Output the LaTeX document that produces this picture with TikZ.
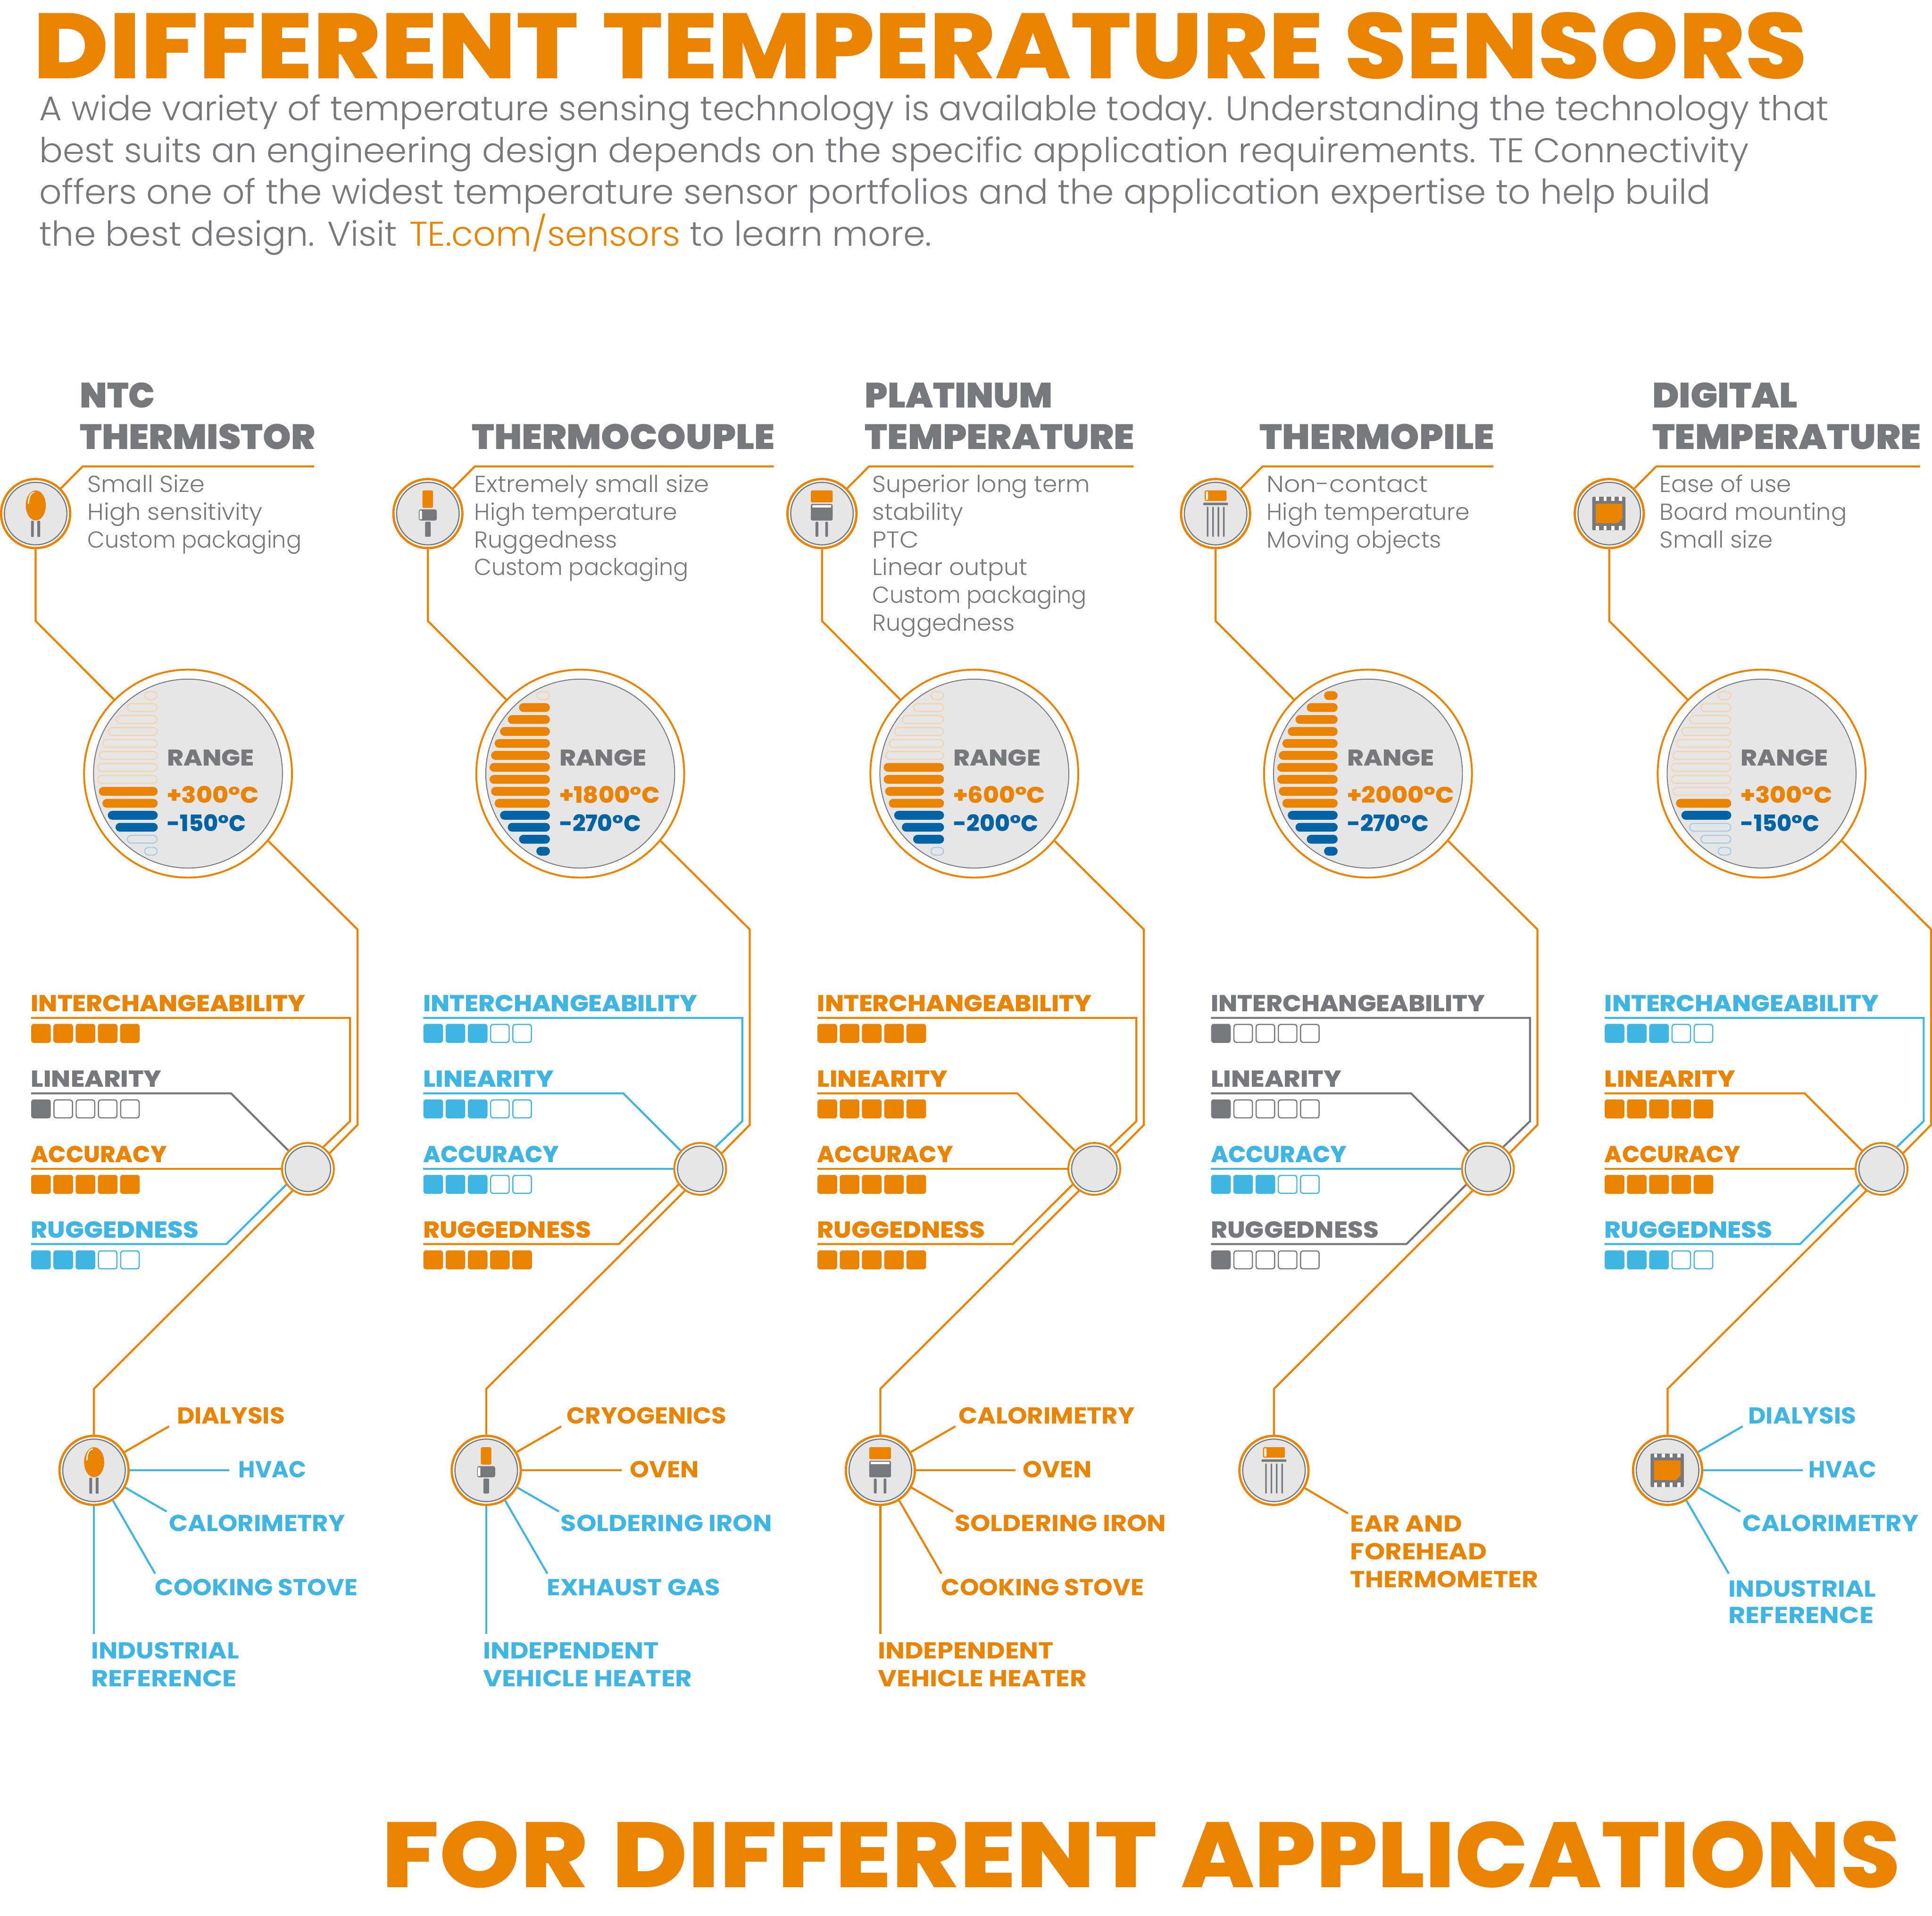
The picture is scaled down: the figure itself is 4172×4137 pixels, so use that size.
\documentclass[tikz,border=0pt]{standalone}
\usepackage{fontspec}
\usepackage{graphicx}
\newfontfamily\fblack{Poppins Black}
\newfontfamily\ftt{Poppins ExtraBold}
\newfontfamily\fxb{Poppins ExtraBold}
\newfontfamily\fbd{Poppins}[UprightFont=* Bold]
\newfontfamily\flight{Poppins Light}
\definecolor{teo}{HTML}{E98300}
\definecolor{teg}{HTML}{77787B}
\definecolor{tel}{HTML}{3FB5E3}
\definecolor{ted}{HTML}{0064A4}
\definecolor{tef}{HTML}{E6E6E7}
\definecolor{teeo}{HTML}{F6D3A8}
\definecolor{teeb}{HTML}{A5CCE2}
\newcommand\ftitle{\ftt\fontsize{200}{200}\selectfont}
\newcommand\fintro{\flight\fontsize{74}{74}\selectfont}
\newcommand\fhead{\fblack\fontsize{76}{76}\selectfont}
\newcommand\fdesc{\flight\fontsize{50}{50}\selectfont}
\newcommand\fmetric{\fxb\fontsize{50}{50}\selectfont}
\newcommand\frange{\fxb\fontsize{49}{49}\selectfont}
\newcommand\fapp{\fbd\fontsize{50}{50}\selectfont}
\newcommand\fitw[2]{\resizebox{#1pt}{\height}{#2}}
\tikzset{
 txt/.style={anchor=base west,inner sep=0pt,outer sep=0pt},
 conn/.style={line width=4.3pt},
 ringS/.style={circle,draw=teo,line width=5pt,fill=white,minimum size=149pt,inner sep=0pt},
 coreS/.style={circle,draw=teg,line width=2.5pt,fill=tef,minimum size=135pt,inner sep=0pt},
 ringR/.style={circle,draw=teo,line width=4pt,fill=white,minimum size=449pt,inner sep=0pt},
 coreR/.style={circle,draw=teg,line width=2pt,fill=tef,minimum size=408pt,inner sep=0pt},
 ringM/.style={circle,draw=teo,line width=4pt,fill=white,minimum size=112pt,inner sep=0pt},
 coreM/.style={circle,draw=teg,line width=2.5pt,fill=tef,minimum size=98pt,inner sep=0pt},
 barE/.style={draw=teeo,line width=2.4pt,rounded corners=8.2pt},
 barO/.style={fill=teo,rounded corners=9.5pt},
 barB/.style={fill=ted,rounded corners=9.5pt},
 barL/.style={draw=teeb,line width=2.4pt,rounded corners=8.2pt},
 icg/.style={fill=teg,rounded corners=2.5pt},
 ico/.style={fill=teo,rounded corners=3pt},
 icw/.style={fill=white,rounded corners=1pt},
}
% ---------- icons, drawn round the origin
\newcommand\iconA{%
 \fill[teo] (0.3,-17.6) ellipse [x radius=21.7,y radius=32.4];
 \draw[white,line width=2.6pt,line cap=round] (-3,-46) .. controls (-11,-45) and (-15,-36) .. (-15.5,-22);
 \fill[icg,rounded corners=1pt] (-10,15.6) rectangle (-4,50.4);
 \fill[icg,rounded corners=1pt] (3.6,15.6) rectangle (9.8,50.4);}
\newcommand\iconB{%
 \fill[ico] (-11.7,-50) rectangle (11,-12.3);
 \fill[icg,rounded corners=4pt] (-19.7,-9) rectangle (19.3,15);
 \fill[icw] (-18,-6.3) rectangle (-12.7,12.3);
 \fill[icg,rounded corners=1.5pt] (-6,17.7) rectangle (6,50);}
\newcommand\iconC{%
 \fill[ico] (-24,-50) rectangle (23,-24);
 \fill[icg,rounded corners=3pt] (-24,-20.7) rectangle (23,15);
 \fill[icw] (-21,-18.3) rectangle (20,-13.3);
 \fill[icg,rounded corners=1.5pt] (-14,17.7) rectangle (-8,50);
 \fill[icg,rounded corners=1.5pt] (7,17.7) rectangle (13,50);}
\newcommand\iconD{%
 \fill[ico] (-23.7,-50) rectangle (23.7,-27.3);
 \fill[icw] (-21,-47.7) rectangle (-16.3,-29.7);
 \fill[icg,rounded corners=1pt] (-26.7,-23.7) rectangle (26.7,-18.3);
 \foreach \q in {-19,-7.3,4.3,16}{\fill[icg,rounded corners=1pt] (\q,-14.7) rectangle (\q+3.4,50);}}
\newcommand\iconE{%
 \fill[icg] (-36.7,-36.3) rectangle (35,36);
 \foreach \q in {-29.3,-12.3,4.3,21}{
  \fill[white] (\q,-36.3) rectangle (\q+6.8,-27.3);
  \fill[white] (\q,26.7) rectangle (\q+6.8,36);}
 \fill[teo] (-29.3,-21.3) -- (28.3,-21.3) -- (28.3,11) -- (18.3,21) -- (-29.3,21) -- cycle;}
% ---------- column state
\newcommand\setcol[2]{\def\cid{#1}\def\dx{#2}}
\newcommand\headA[3]{\node[txt,text=teg] (hA\cid) at (#1,881) {\fitw{#2}{\fhead #3}};}
\newcommand\headB[3]{\node[txt,text=teg] (hB\cid) at (#1,970) {\fitw{#2}{\fhead #3}};}
\newcommand\desclines[2]{%
 \foreach \w/\t [count=\i from 0] in {#2}{
  \node[txt,text=teg] (d\cid-\i) at (#1,1062.6+60*\i) {\fitw{\w}{\fdesc \t}};}}
\newcommand\topconn[1]{% right end of the heading rule
 \node[ringS] (t\cid) at (\dx+77,1109) {};
 \node[coreS] (tc\cid) at (\dx+77,1109) {};
 \coordinate (ta\cid) at (\dx+178.6,1007);
 \coordinate (tb\cid) at (#1,1007);
 \coordinate (tc\cid x) at (\dx+77,1341);
 \node[ringR] (r\cid) at (\dx+406,1670.5) {};
 \node[coreR] (rc\cid) at (\dx+406,1670.5) {};
 \coordinate (ra\cid) at (\dx+772,2007);
 \coordinate (rb\cid) at (\dx+772,2429);
 \node[ringM] (m\cid) at (\dx+665,2524) {};
 \node[coreM] (mc\cid) at (\dx+665,2524) {};
 \coordinate (ma\cid) at (\dx+203,2999);
 \node[ringS] (b\cid) at (\dx+203,3175) {};
 \node[coreS] (bc\cid) at (\dx+203,3175) {};
 \draw[conn,teo] (t\cid.45) -- (ta\cid) -- (tb\cid);
 \draw[conn,teo] (t\cid.south) -- (tc\cid x) -- (r\cid.135);
 \draw[conn,teo] (r\cid.320) -- (ra\cid) -- (rb\cid) -- (m\cid.36);
 \draw[conn,teo] (m\cid.235) -- (ma\cid) -- (b\cid.north);}
\newcommand\placeicon[1]{%
 \begin{scope}[shift={(\dx+77,1109)}]#1\end{scope}
 \begin{scope}[shift={(\dx+203,3175)}]#1\end{scope}}
\newcommand\bars[3]{% last empty-orange row, last orange row, last blue row
 \foreach \w [count=\i] in {29.3,66.7,91,107.7,119.3,127,130.3,130.3,127,119.3,107.7,91,66.7,29.3}{
  \def\ins{0}
  \ifnum\i>#3 \def\s{barL}\def\ins{1.2}\else\ifnum\i>#2 \def\s{barB}\else\ifnum\i>#1 \def\s{barO}\else\def\s{barE}\def\ins{1.2}\fi\fi\fi
  \path[\s] (\dx+340.5-\w+\ins,1502+25.85*\i-25.85-9.5+\ins) rectangle (\dx+340.5-\ins,1502+25.85*\i-25.85+9.5-\ins);}}
\newcommand\rangetxt[4]{% hot, width, cold, width
 \node[txt,text=teg] (rt\cid) at (\dx+361,1654) {\fitw{188}{\frange RANGE}};
 \node[txt,text=teo] (rh\cid) at (\dx+361,1734) {\fitw{#2}{\frange #1}};
 \node[txt,text=ted] (rl\cid) at (\dx+361,1795) {\fitw{#4}{\frange #3}};}
\newcommand\squares[3]{% y top, colour, filled count
 \foreach \i in {0,...,4}{
  \ifnum\i<#3
   \fill[#2,rounded corners=6pt] (\dx+67.3+48*\i,#1) rectangle (\dx+109.7+48*\i,#1+41);
  \else
   \draw[#2,line width=2.5pt,rounded corners=5pt] (\dx+68.5+48*\i,#1+1.2) rectangle (\dx+108.5+48*\i,#1+39.8);
  \fi}}
\newcommand\metricI[2]{%
 \node[txt,text=#1] (mI\cid) at (\dx+67,2184) {\fitw{592}{\fmetric INTERCHANGEABILITY}};
 \squares{2211}{#1}{#2}
 \coordinate (iA\cid) at (\dx+67,2198);\coordinate (iB\cid) at (\dx+756,2198);\coordinate (iC\cid) at (\dx+756,2421);
 \draw[conn,#1] (iA\cid) -- (iB\cid) -- (iC\cid) -- (m\cid.55);}
\newcommand\metricL[2]{%
 \node[txt,text=#1] (mL\cid) at (\dx+67,2347) {\fitw{282}{\fmetric LINEARITY}};
 \squares{2374}{#1}{#2}
 \coordinate (lA\cid) at (\dx+67,2361);\coordinate (lB\cid) at (\dx+499,2361);
 \draw[conn,#1] (lA\cid) -- (lB\cid) -- (m\cid.137);}
\newcommand\metricA[2]{%
 \node[txt,text=#1] (mA\cid) at (\dx+67,2510) {\fitw{293}{\fmetric ACCURACY}};
 \squares{2537}{#1}{#2}
 \coordinate (aA\cid) at (\dx+67,2524);
 \draw[conn,#1] (aA\cid) -- (m\cid.180);}
\newcommand\metricR[2]{%
 \node[txt,text=#1] (mR\cid) at (\dx+67,2673) {\fitw{362}{\fmetric RUGGEDNESS}};
 \squares{2700}{#1}{#2}
 \coordinate (uA\cid) at (\dx+67,2686.5);\coordinate (uB\cid) at (\dx+489,2686.5);
 \draw[conn,#1] (uA\cid) -- (uB\cid) -- (m\cid.216);}
\newcommand\applabel[5]{% colour, x, baseline, width, text
 \node[txt,text=#1] (L\cid-#3) at (#2,#3) {\fitw{#4}{\fapp #5}};}
\newcommand\appline[5]{% tag, colour, anchor, end x, end y
 \coordinate (e#1\cid) at (\dx+#4,#5);
 \draw[conn,#2] (b\cid.#3) -- (e#1\cid);}
\begin{document}
\begin{tikzpicture}[x=1pt,y=-1pt]
\useasboundingbox (0,0) rectangle (4172,4137);
% title and introduction
\node[txt,text=teo] (title) at (72,170) {\fitw{1177}{\ftitle DIFFERENT}\hspace{52pt}\fitw{1557}{\ftitle TEMPERATURE}\hspace{45pt}\fitw{999}{\ftitle SENSORS}};
\node[txt,text=teg] (intro1) at (85,260.7) {\fitw{3864}{\fintro A wide variety of temperature sensing technology is available today. Understanding the technology that}};
\node[txt,text=teg] (intro2) at (85,350.7) {\fitw{3691}{\fintro best suits an engineering design depends on the specific application requirements. TE Connectivity}};
\node[txt,text=teg] (intro3) at (85,441) {\fitw{3609}{\fintro offers one of the widest temperature sensor portfolios and the application expertise to help build}};
\node[txt,text=teg] (intro4) at (85,531) {\fitw{1927}{\fintro the best design. Visit \textcolor{teo}{\hspace{6pt}TE.com/sensors} to learn more.}};
\node[txt,text=teo] (bottom) at (825,4076) {\fitw{445}{\ftitle FOR}\hspace{52pt}\fitw{1177}{\ftitle DIFFERENT}\hspace{52pt}\fitw{1552}{\ftitle APPLICATIONS}};
% ---- column 1
\setcol{a}{0}
\headA{172.5}{162}{NTC}\headB{172.5}{508}{THERMISTOR}
\desclines{189}{253/Small Size,378/High sensitivity,462/Custom packaging}
\topconn{678.6}
\placeicon{\iconA}
\bars{8}{10}{12}
\rangetxt{+300°C}{198}{-150°C}{170}
\metricI{teo}{5}\metricL{teg}{1}\metricA{teo}{5}\metricR{tel}{3}
\appline{p}{teo}{31}{365}{3080}\appline{q}{tel}{0}{495}{3175}\appline{r}{tel}{-29}{360}{3264}\appline{s}{tel}{-58}{335}{3398}\appline{t}{tel}{south}{203}{3528}
\applabel{teo}{382}{3074}{233}{DIALYSIS}
\applabel{tel}{515}{3191}{146}{HVAC}
\applabel{tel}{365}{3307}{380}{CALORIMETRY}
\applabel{tel}{335}{3445}{437}{COOKING STOVE}
\applabel{tel}{197}{3582}{319}{INDUSTRIAL}
\applabel{tel}{197}{3641.5}{314}{REFERENCE}
% ---- column 2
\setcol{b}{847}
\headB{1019}{654}{THERMOCOUPLE}
\desclines{1024.5}{507/Extremely small size,438/High temperature,308/Ruggedness,462/Custom packaging}
\topconn{1671}
\placeicon{\iconB}
\bars{1}{10}{14}
\rangetxt{+1800°C}{217}{-270°C}{176}
\metricI{tel}{3}\metricL{tel}{3}\metricA{tel}{3}\metricR{teo}{5}
\appline{p}{teo}{31}{365}{3080}\appline{q}{teo}{0}{495}{3175}\appline{r}{tel}{-29}{360}{3264}\appline{s}{tel}{-58}{335}{3398}\appline{t}{tel}{south}{203}{3528}
\applabel{teo}{1224}{3074}{345}{CRYOGENICS}
\applabel{teo}{1360}{3191}{149}{OVEN}
\applabel{tel}{1211}{3307}{456}{SOLDERING IRON}
\applabel{tel}{1181}{3445}{374}{EXHAUST GAS}
\applabel{tel}{1043}{3582}{380}{INDEPENDENT}
\applabel{tel}{1043}{3641.5}{452}{VEHICLE HEATER}
% ---- column 3
\setcol{c}{1698}
\headA{1868}{405}{PLATINUM}\headB{1868}{581}{TEMPERATURE}
\desclines{1884}{470/Superior long term,196/stability,100/PTC,335/Linear output,462/Custom packaging,308/Ruggedness}
\topconn{2448}
\placeicon{\iconC}
\bars{6}{10}{13}
\rangetxt{+600°C}{198}{-200°C}{183}
\metricI{teo}{5}\metricL{teo}{5}\metricA{teo}{5}\metricR{teo}{5}
\appline{p}{teo}{31}{365}{3080}\appline{q}{teo}{0}{495}{3175}\appline{r}{teo}{-29}{360}{3264}\appline{s}{teo}{-58}{335}{3398}\appline{t}{teo}{south}{203}{3528}
\applabel{teo}{2070}{3074}{380}{CALORIMETRY}
\applabel{teo}{2209}{3191}{149}{OVEN}
\applabel{teo}{2062}{3307}{456}{SOLDERING IRON}
\applabel{teo}{2033}{3445}{437}{COOKING STOVE}
\applabel{teo}{1896}{3582}{379}{INDEPENDENT}
\applabel{teo}{1896}{3641.5}{451}{VEHICLE HEATER}
% ---- column 4
\setcol{d}{2548}
\headB{2720}{507}{THERMOPILE}
\desclines{2735.5}{348/Non-contact,438/High temperature,377/Moving objects}
\topconn{3225}
\placeicon{\iconD}
\bars{0}{10}{14}
\rangetxt{+2000°C}{231}{-270°C}{176}
\metricI{teg}{1}\metricL{teg}{1}\metricA{tel}{3}\metricR{teg}{1}
\appline{r}{teo}{-30}{363}{3268}
\applabel{teo}{2916}{3308}{241}{EAR AND}
\applabel{teo}{2916}{3368}{295}{FOREHEAD}
\applabel{teo}{2916}{3428}{406}{THERMOMETER}
% ---- column 5
\setcol{e}{3398}
\headA{3568}{314}{DIGITAL}\headB{3568}{580}{TEMPERATURE}
\desclines{3584}{284/Ease of use,404/Board mounting,244/Small size}
\topconn{4146}
\placeicon{\iconE}
\bars{9}{10}{11}
\rangetxt{+300°C}{198}{-150°C}{170}
\metricI{tel}{3}\metricL{teo}{5}\metricA{teo}{5}\metricR{tel}{3}
\appline{p}{tel}{31}{365}{3080}\appline{q}{tel}{0}{495}{3175}\appline{r}{tel}{-29}{360}{3264}\appline{s}{tel}{-58}{335}{3398}
\applabel{tel}{3775}{3074}{233}{DIALYSIS}
\applabel{tel}{3906}{3191}{146}{HVAC}
\applabel{tel}{3763}{3307}{380}{CALORIMETRY}
\applabel{tel}{3732}{3448}{319}{INDUSTRIAL}
\applabel{tel}{3732}{3505}{314}{REFERENCE}
\end{tikzpicture}
\end{document}
